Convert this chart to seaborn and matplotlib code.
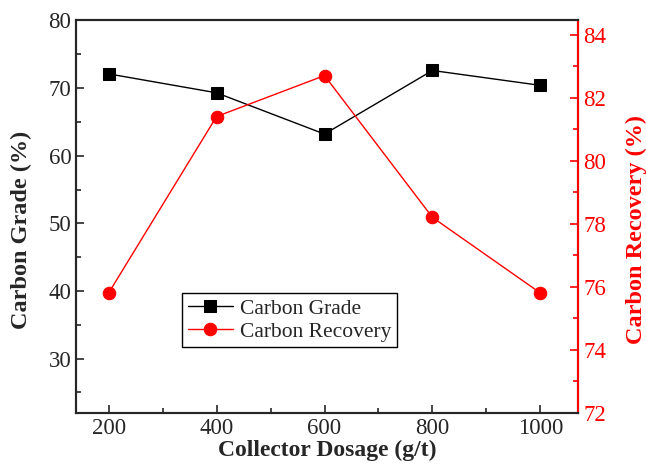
import seaborn as sns
import matplotlib.pyplot as plt
import pandas as pd
from matplotlib.ticker import MultipleLocator

dosage = [200, 400, 600, 800, 1000]
grade = [72.1, 69.3, 63.2, 72.6, 70.4]
recovery = [75.8, 81.4, 82.7, 78.2, 75.8]

df = pd.DataFrame({"dosage": dosage, "grade": grade, "recovery": recovery})

sns.set_style("ticks")
plt.rcParams["font.family"] = ["Liberation Serif", "DejaVu Serif"]

fig, ax = plt.subplots(figsize=(6.46, 4.75), dpi=100)
fig.subplots_adjust(left=0.118, right=0.895, top=0.957, bottom=0.131)
ax2 = ax.twinx()

sns.lineplot(data=df, x="dosage", y="grade", ax=ax, color="black", marker="s",
             markersize=8, markeredgecolor="black", linewidth=1, label="Carbon Grade",
             legend=False)
sns.lineplot(data=df, x="dosage", y="recovery", ax=ax2, color="red", marker="o",
             markersize=9, markeredgecolor="red", linewidth=1, label="Carbon Recovery",
             legend=False)

ax.set_xlim(140, 1070)
ax.set_ylim(22, 80)
ax2.set_ylim(72, 84.45)
ax.set_xticks(dosage)
ax.xaxis.set_minor_locator(MultipleLocator(100))
ax.yaxis.set_minor_locator(MultipleLocator(5))
ax.set_yticks([30, 40, 50, 60, 70, 80])
ax2.yaxis.set_major_locator(MultipleLocator(2))
ax2.yaxis.set_minor_locator(MultipleLocator(1))

ax.tick_params(which="both", direction="in", labelsize=16.5, width=1.2)
ax.tick_params(which="major", length=6)
ax.tick_params(which="minor", length=3.5)
ax2.tick_params(which="both", direction="in", labelsize=16.5, colors="red", width=1.2)
ax2.tick_params(which="major", length=6)
ax2.tick_params(which="minor", length=3.5)

for s in ax.spines.values():
    s.set_linewidth(1.5)
for s in ax2.spines.values():
    s.set_linewidth(1.5)
ax2.spines["right"].set_color("red")

ax.set_xlabel("Collector Dosage (g/t)", fontsize=17, fontweight="bold", labelpad=1)
ax.set_ylabel("Carbon Grade (%)", fontsize=17.5, fontweight="bold")
ax2.set_ylabel("Carbon Recovery (%)", fontsize=17.5, fontweight="bold", color="red")
ax.yaxis.set_label_coords(-0.088, 0.466)
ax2.yaxis.set_label_coords(1.094, 0.468)

h1, l1 = ax.get_legend_handles_labels()
h2, l2 = ax2.get_legend_handles_labels()
leg = ax2.legend(h1 + h2, l1 + l2, loc="upper left", bbox_to_anchor=(0.211, 0.305),
                 fontsize=15.5, fancybox=False, edgecolor="black", framealpha=1,
                 handlelength=2.1, borderpad=0.25, labelspacing=0.15, handletextpad=0.35,
                 borderaxespad=0)
leg.get_frame().set_linewidth(1)

fig.savefig("out.png", dpi=100)
